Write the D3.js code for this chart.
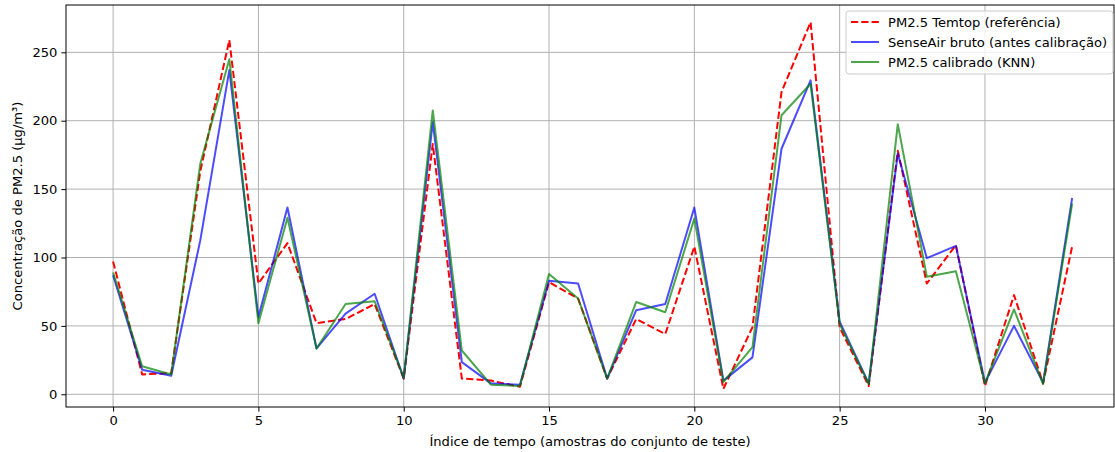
<!DOCTYPE html>
<html>
<head>
<meta charset="utf-8">
<script src="https://cdn.jsdelivr.net/npm/d3@7"></script>
<style>
  body { margin: 0; background: #fff; }
  text { font-family: "DejaVu Sans", sans-serif; }
</style>
</head>
<body>
<div id="chart"></div>
<script>
// indices 0..33
var idx = d3.range(34);

var temtop = [97, 14.5, 15.5, 163, 259, 81, 110.5, 52, 55, 66, 11.5, 183, 11.5, 10, 5.5, 82, 70, 11.5, 55, 44, 108, 4, 49, 221, 272, 49, 6, 178, 81, 109, 6, 72.5, 8, 108];
var senseair = [87, 18, 13.5, 112.5, 237, 56.5, 136.5, 33.5, 59, 73.5, 11.5, 199, 23.5, 8, 7, 83, 81, 11.5, 61.5, 66, 136.5, 10, 27, 179.5, 229.5, 53, 8, 176, 99.5, 108.5, 8.5, 50, 8.5, 143.5];
var knn = [89, 20.5, 14.5, 168.5, 245, 52, 129, 33.5, 66, 68, 12, 207.5, 32, 7, 6, 88, 70, 11.5, 67.5, 60, 128.5, 9, 34.5, 204, 227, 51.5, 7.5, 197.5, 86, 90, 8, 62, 7.5, 139.5];

var xTicks = [0, 5, 10, 15, 20, 25, 30];
var yTicks = [0, 50, 100, 150, 200, 250];

var seriesNames = ["PM2.5 Temtop (referência)", "SenseAir bruto (antes calibração)", "PM2.5 calibrado (KNN)"];

var W = 1115, H = 452;
var pL = 66, pR = 1114, pT = 5, pB = 407;
var fs = "13.1px";

var svg = d3.select("#chart").append("svg")
    .attr("width", W)
    .attr("height", H);

var x = d3.scaleLinear().domain([-1.62, 34.44]).range([pL, pR]);
var y = d3.scaleLinear().domain([-9.3, 284.6]).range([pB, pT]);

// grid
svg.append("g").selectAll("line")
    .data(xTicks).enter().append("line")
    .attr("x1", d => x(d)).attr("x2", d => x(d))
    .attr("y1", pT).attr("y2", pB)
    .attr("stroke", "#b0b0b0").attr("stroke-width", 1);
svg.append("g").selectAll("line")
    .data(yTicks).enter().append("line")
    .attr("x1", pL).attr("x2", pR)
    .attr("y1", d => y(d)).attr("y2", d => y(d))
    .attr("stroke", "#b0b0b0").attr("stroke-width", 1);

// axes
var xAxis = svg.append("g")
    .attr("transform", "translate(0," + pB + ")")
    .call(d3.axisBottom(x).tickValues(xTicks).tickSize(4.6).tickPadding(4));
var yAxis = svg.append("g")
    .attr("transform", "translate(" + pL + ",0)")
    .call(d3.axisLeft(y).tickValues(yTicks).tickSize(4.6).tickPadding(4));
[xAxis, yAxis].forEach(function(a){
    a.select(".domain").remove();
    a.selectAll("line").attr("stroke", "#000").attr("stroke-width", 1);
    a.selectAll("text").attr("font-size", fs).attr("fill", "#000")
        .attr("font-family", "DejaVu Sans, sans-serif");
});

// lines
svg.append("clipPath").attr("id", "clip")
    .append("rect").attr("x", pL).attr("y", pT)
    .attr("width", pR - pL).attr("height", pB - pT);

var line = d3.line()
    .x(function(d, i){ return x(idx[i]); })
    .y(function(d){ return y(d); });

var styles = [
    {data: temtop, color: "red", opacity: 1, dash: "7.2,3.1"},
    {data: senseair, color: "blue", opacity: 0.7, dash: null},
    {data: knn, color: "green", opacity: 0.7, dash: null}
];

styles.forEach(function(s){
    svg.append("path")
        .datum(s.data)
        .attr("clip-path", "url(#clip)")
        .attr("d", line)
        .attr("fill", "none")
        .attr("stroke", s.color)
        .attr("stroke-opacity", s.opacity)
        .attr("stroke-width", 2)
        .attr("stroke-dasharray", s.dash)
        .attr("stroke-linejoin", "round");
});

// frame
svg.append("rect")
    .attr("x", pL).attr("y", pT)
    .attr("width", pR - pL).attr("height", pB - pT)
    .attr("fill", "none").attr("stroke", "#000").attr("stroke-width", 1);

// axis labels
svg.append("text")
    .attr("x", (pL + pR) / 2).attr("y", 446)
    .attr("text-anchor", "middle").attr("font-size", fs)
    .text("Índice de tempo (amostras do conjunto de teste)");
svg.append("text")
    .attr("transform", "translate(22," + ((pT + pB) / 2) + ") rotate(-90)")
    .attr("text-anchor", "middle").attr("font-size", fs)
    .text("Concentração de PM2.5 (µg/m³)");

// legend
var lg = svg.append("g").attr("transform", "translate(846,11)");
lg.append("rect")
    .attr("width", 267).attr("height", 63).attr("rx", 3)
    .attr("fill", "#fff").attr("fill-opacity", 0.8)
    .attr("stroke", "#ccc").attr("stroke-width", 1);
styles.forEach(function(s, i){
    var cy = 11 + i * 20;
    lg.append("line")
        .attr("x1", 5).attr("x2", 33).attr("y1", cy).attr("y2", cy)
        .attr("stroke", s.color).attr("stroke-opacity", s.opacity)
        .attr("stroke-width", 2).attr("stroke-dasharray", s.dash);
    lg.append("text")
        .attr("x", 42).attr("y", cy + 5)
        .attr("font-size", fs)
        .text(seriesNames[i]);
});
</script>
</body>
</html>
